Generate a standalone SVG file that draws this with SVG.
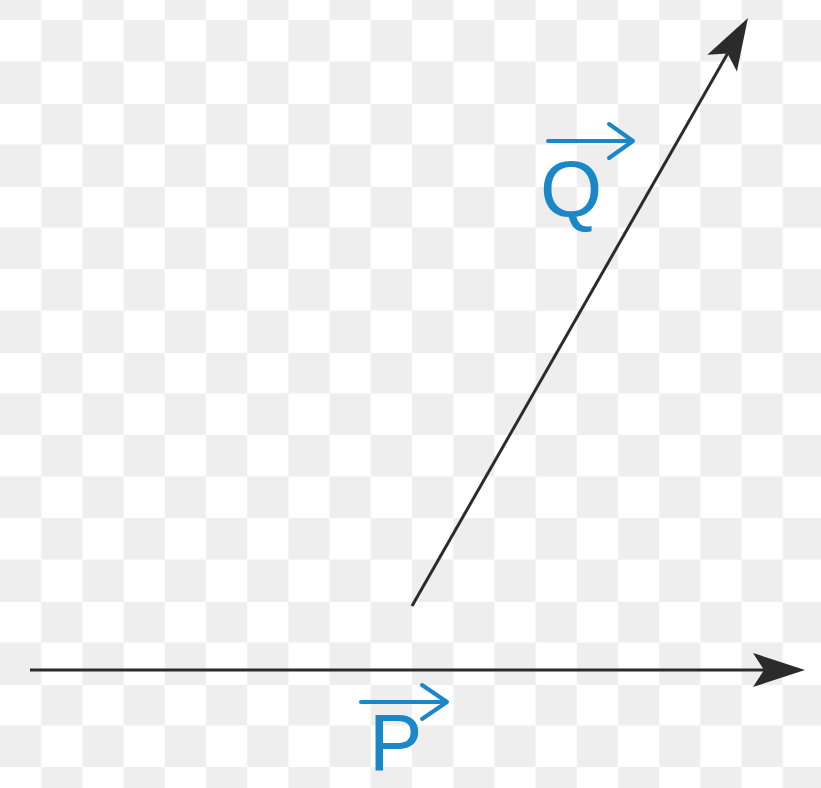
<svg xmlns="http://www.w3.org/2000/svg" width="821" height="788" viewBox="0 0 821 788">
  <defs>
    <pattern id="checker" patternUnits="userSpaceOnUse" x="0" y="20" width="82.4" height="83">
      <rect x="0" y="0" width="82.4" height="83" fill="#ffffff"/>
      <rect x="41.2" y="0" width="41.2" height="41.5" fill="#eeeeee"/>
      <rect x="0" y="41.5" width="41.2" height="41.5" fill="#eeeeee"/>
    </pattern>
    <marker id="head" markerUnits="userSpaceOnUse" viewBox="-2 -20 60 40" markerWidth="60" markerHeight="40" refX="11" refY="0" orient="auto">
      <path d="M0,-17 L52,0 L0,17 L11,0 Z" fill="#2b2b2b"/>
    </marker>
    <style>
      .vec { stroke: #2b2b2b; stroke-width: 3; fill: none; stroke-linecap: butt; }
      .lbl { font-family: "Liberation Sans", Arial, sans-serif; font-size: 80px; fill: #1a87c9; }
      .acc { stroke: #1a87c9; stroke-width: 4; fill: none; stroke-linecap: round; stroke-linejoin: round; }
    </style>
  </defs>
  <g id="background">
    <rect x="0" y="0" width="821" height="788" fill="url(#checker)"/>
  </g>
  <g id="connectors">
    <line id="vector-P" class="vec" x1="30" y1="670" x2="764" y2="670" marker-end="url(#head)"/>
    <line id="vector-Q" class="vec" x1="412" y1="606" x2="727.6" y2="53.6" marker-end="url(#head)"/>
  </g>
  <g id="label-Q">
    <text class="lbl" x="540" y="217">Q</text>
    <path class="acc" d="M548,141 L632,141 M609,124 L633,141 L609,158"/>
  </g>
  <g id="label-P">
    <text class="lbl" x="369" y="770">P</text>
    <path class="acc" d="M361,702 L446,702 M422,685 L447,702 L422,719"/>
  </g>
</svg>
